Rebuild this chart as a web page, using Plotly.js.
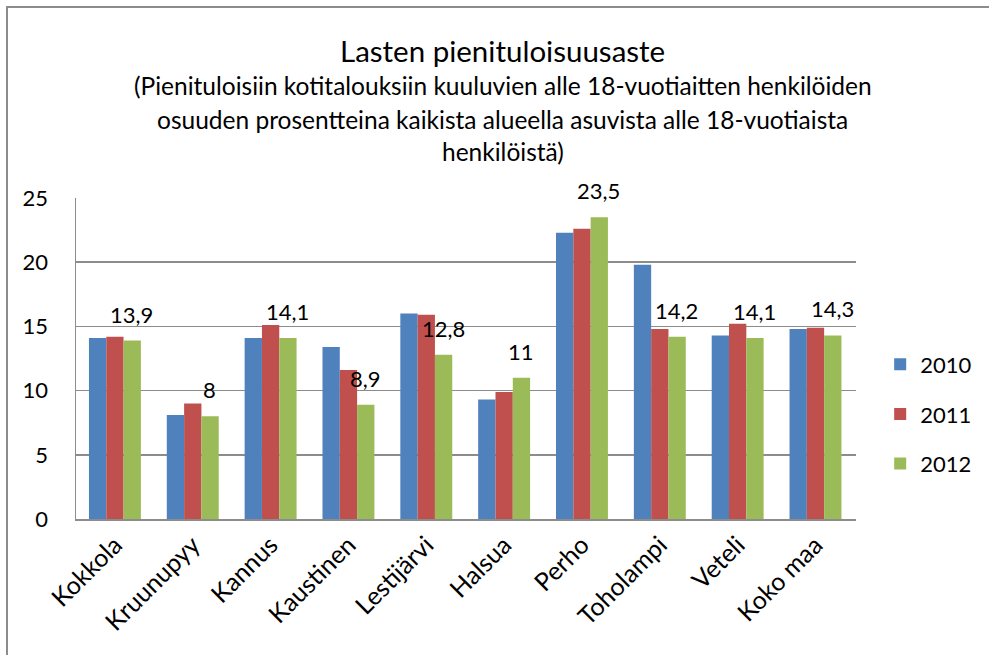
<!DOCTYPE html>
<html>
<head>
<meta charset="utf-8">
<script src="https://cdn.plot.ly/plotly-3.0.1.min.js"></script>
<style>
  html, body { margin: 0; padding: 0; background: #fff; overflow: hidden; }
  #chart { position: absolute; left: 0; top: 0; width: 989px; height: 655px; }
  #frame { position: absolute; left: 6px; top: 6px; width: 1200px; height: 800px;
           border-left: 2px solid #8c8c8c; border-top: 2px solid #8c8c8c; pointer-events: none; z-index: 5; }
</style>
</head>
<body>
<div id="chart"></div>
<div id="frame"></div>
<script>
const categories = ["Kokkola", "Kruunupyy", "Kannus", "Kaustinen", "Lestijärvi", "Halsua", "Perho", "Toholampi", "Veteli", "Koko maa"];
const seriesNames = ["2010", "2011", "2012"];
const values2010 = [14.1, 8.1, 14.1, 13.4, 16.0, 9.3, 22.3, 19.8, 14.3, 14.8];
const values2011 = [14.2, 9.0, 15.1, 11.6, 15.9, 9.9, 22.6, 14.8, 15.2, 14.9];
const values2012 = [13.9, 8.0, 14.1, 8.9, 12.8, 11.0, 23.5, 14.2, 14.1, 14.3];
const yTicks = [0, 5, 10, 15, 20, 25];
const titleText = "Lasten pienituloisuusaste";
const subtitleLines = [
  "(Pienituloisiin kotitalouksiin kuuluvien alle 18-vuotiaitten henkilöiden",
  "osuuden prosentteina kaikista alueella asuvista alle 18-vuotiaista",
  "henkilöistä)"
];

const colors = ["#4F81BD", "#C0504D", "#9BBB59"];
const allValues = [values2010, values2011, values2012];
const FONT = "Lato, 'Open Sans', sans-serif";

const traces = allValues.map((vals, i) => ({
  type: "bar",
  name: seriesNames[i],
  x: categories,
  y: vals,
  marker: { color: colors[i], line: { width: 0 } },
  legendgroup: "g" + i,
  hoverinfo: "x+y+name"
}));

const fmt = v => String(v).replace(".", ",");

const annotations = [];
// data labels for the 2012 series
values2012.forEach((v, i) => {
  annotations.push({
    x: categories[i], y: v, xref: "x", yref: "y",
    text: fmt(v), showarrow: false,
    xanchor: "center", yanchor: "bottom",
    xshift: 17, yshift: 11,
    font: { family: FONT, size: 22, color: "#000" }
  });
});
// title & subtitle
annotations.push({
  xref: "paper", yref: "paper", x: 0.547, y: 1.46,
  xanchor: "center", yanchor: "middle", showarrow: false,
  text: titleText, font: { family: FONT, size: 29.5, color: "#000" }
});
const subY = [1.35, 1.244, 1.144];
subtitleLines.forEach((t, i) => {
  annotations.push({
    xref: "paper", yref: "paper", x: 0.547, y: subY[i],
    xanchor: "center", yanchor: "middle", showarrow: false,
    text: t, font: { family: FONT, size: 24.5, color: "#000" }
  });
});

const layout = {
  width: 989, height: 655,
  margin: { l: 76, r: 133, t: 198, b: 136 },
  paper_bgcolor: "#fff", plot_bgcolor: "#fff",
  font: { family: FONT, size: 22, color: "#000" },
  barmode: "group", bargap: 0.333, bargroupgap: 0,
  showlegend: true,
  legend: {
    x: 1.031, y: 0.327, xanchor: "left", yanchor: "middle",
    font: { family: FONT, size: 22, color: "#000" },
    tracegroupgap: 18, bgcolor: "rgba(0,0,0,0)"
  },
  xaxis: {
    type: "category", tickangle: -45,
    showline: true, linecolor: "#8c8c8c", linewidth: 1.5,
    ticks: "", showgrid: false,
    tickfont: { family: FONT, size: 25, color: "#000" }
  },
  yaxis: {
    range: [0, 25], tickvals: yTicks, ticktext: yTicks.map(String),
    showline: true, linecolor: "#8c8c8c", linewidth: 1.5,
    showgrid: true, gridcolor: "#8c8c8c", gridwidth: 1.5,
    zeroline: false, ticks: "", ticklabelstandoff: 22,
    tickfont: { family: FONT, size: 22, color: "#000" }
  },
  annotations: annotations
};

Plotly.newPlot("chart", traces, layout, { displayModeBar: false, staticPlot: true });
</script>
</body>
</html>
